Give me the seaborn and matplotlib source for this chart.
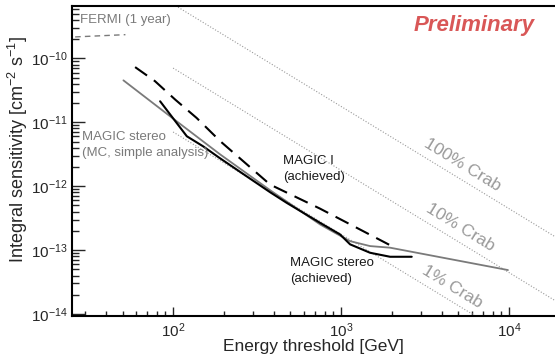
import numpy as np
import pandas as pd
import matplotlib
matplotlib.use("Agg")
import matplotlib.pyplot as plt
import matplotlib.ticker as mticker
import seaborn as sns

# ---------------- data ----------------
magic1_E = [59.4, 78, 103, 138, 191, 378, 750, 2005]
magic1_S = [7.3e-11, 4.4e-11, 2.26e-11, 1.17e-11, 5.05e-12, 1.06e-12, 4.45e-13, 1.155e-13]

stereo_E = [83.7, 105, 120.7, 151, 190, 378, 475, 750, 986, 1132, 1489, 1959, 2636]
stereo_S = [2.13e-11, 9.75e-12, 6.04e-12, 4.2e-12, 2.74e-12, 8.05e-13, 5.48e-13, 2.67e-13,
            1.76e-13, 1.23e-13, 9.08e-14, 7.86e-14, 7.86e-14]

mc_E = [50.6, 96, 191, 378, 750, 942, 1132, 1489, 1959, 9860]
mc_S = [4.53e-11, 1.24e-11, 3.13e-12, 8.66e-13, 2.52e-13, 1.80e-13, 1.38e-13, 1.155e-13,
        1.09e-13, 4.87e-14]

fermi_E = [20, 52]
fermi_S = [2.1e-10, 2.35e-10]

crab_E = [100, 20000]
crab100_S = [7.05e-10, 1.47e-13]
crab10_S = [7.05e-11, 1.47e-14]
crab1_S = [7.05e-12, 1.47e-15]

xlim = (25, 18800)
ylim = (9.3e-15, 6.6e-10)

# ---------------- style ----------------
sns.set_theme(style="white")
plt.rcParams["font.family"] = ["Liberation Sans", "DejaVu Sans"]
plt.rcParams["mathtext.default"] = "regular"

fig = plt.figure(figsize=(5.55, 3.61), dpi=100)
ax = fig.add_axes([72 / 555, 45 / 361, 483 / 555, 310 / 361])

grey = "#7a7a7a"
crabgrey = "#9a9a9a"

def draw(E, S, **kw):
    df = pd.DataFrame({"E": E, "S": S})
    sns.lineplot(data=df, x="E", y="S", ax=ax, sort=False, estimator=None, **kw)

for S in (crab100_S, crab10_S, crab1_S):
    draw(crab_E, S, color=crabgrey, lw=0.8, linestyle=(0, (1, 1.6)))
draw(fermi_E, fermi_S, color=grey, lw=1.0, linestyle=(0, (4, 3)))
draw(mc_E, mc_S, color=grey, lw=1.3)
draw(stereo_E, stereo_S, color="black", lw=1.5)
draw(magic1_E, magic1_S, color="black", lw=1.5, linestyle=(0, (7, 4)))

ax.set_xscale("log")
ax.set_yscale("log")
ax.set_xlim(*xlim)
ax.set_ylim(*ylim)

# ticks ROOT-like: inside, major + minor
for axis in (ax.xaxis, ax.yaxis):
    axis.set_major_locator(mticker.LogLocator(base=10, numticks=20))
    axis.set_minor_locator(mticker.LogLocator(base=10, subs=np.arange(2, 10), numticks=20))
    axis.set_minor_formatter(mticker.NullFormatter())
    axis.set_major_formatter(mticker.LogFormatterSciNotation())
    axis.offsetText.set_visible(False)
ax.tick_params(axis="x", which="major", direction="in", length=6.5, width=1.0, labelsize=11,
               bottom=True, top=False, pad=4)
ax.tick_params(axis="x", which="minor", direction="in", length=3.6, width=1.0, bottom=True, top=False)
ax.tick_params(axis="y", which="major", direction="in", length=9.4, width=1.0, labelsize=11,
               left=True, right=False, pad=3)
ax.tick_params(axis="y", which="minor", direction="in", length=4.7, width=1.0, left=True, right=False)

for side in ("left", "bottom", "top"):
    ax.spines[side].set_color("black")
    ax.spines[side].set_linewidth(1.5)
ax.spines["right"].set_visible(False)

ax.set_xlabel("Energy threshold [GeV]", fontsize=12.5, va="top")
ax.xaxis.set_label_coords(0.5, (316 - 339) / 310)
ax.set_ylabel("Integral sensitivity [cm$^{-2}$ s$^{-1}$]", fontsize=13)
ax.yaxis.set_label_coords((30 - 72) / 483, 0.537)

# annotations
ax.text(0.016, (316 - 20) / 310, "FERMI (1 year)", transform=ax.transAxes,
        color=grey, fontsize=9.5, va="center", ha="left")
ax.text((535 - 72) / 483, (316 - 26) / 310, "Preliminary", transform=ax.transAxes,
        color="#d95757", fontsize=16, fontweight="bold", fontstyle="italic", ha="right", va="center")
ax.text((82 - 72) / 483, (316 - 145) / 310, "MAGIC stereo\n(MC, simple analysis)", transform=ax.transAxes,
        color=grey, fontsize=9.5, ha="left", va="center", linespacing=1.35)
ax.text((283 - 72) / 483, (316 - 169) / 310, "MAGIC I\n(achieved)", transform=ax.transAxes,
        color="#1a1a1a", fontsize=9.5, ha="left", va="center", linespacing=1.35)
ax.text((290 - 72) / 483, (316 - 271) / 310, "MAGIC stereo\n(achieved)", transform=ax.transAxes,
        color="#1a1a1a", fontsize=9.5, ha="left", va="center", linespacing=1.35)

for (px, py), lab in zip([(462, 165), (460, 227), (452, 287)], ["100% Crab", "10% Crab", "1% Crab"]):
    ax.text((px - 72) / 483, (316 - py) / 310, lab, transform=ax.transAxes, color=crabgrey,
            fontsize=12.5, rotation=-31.5, ha="center", va="center", rotation_mode="anchor")

fig.savefig("out.png", dpi=100)
